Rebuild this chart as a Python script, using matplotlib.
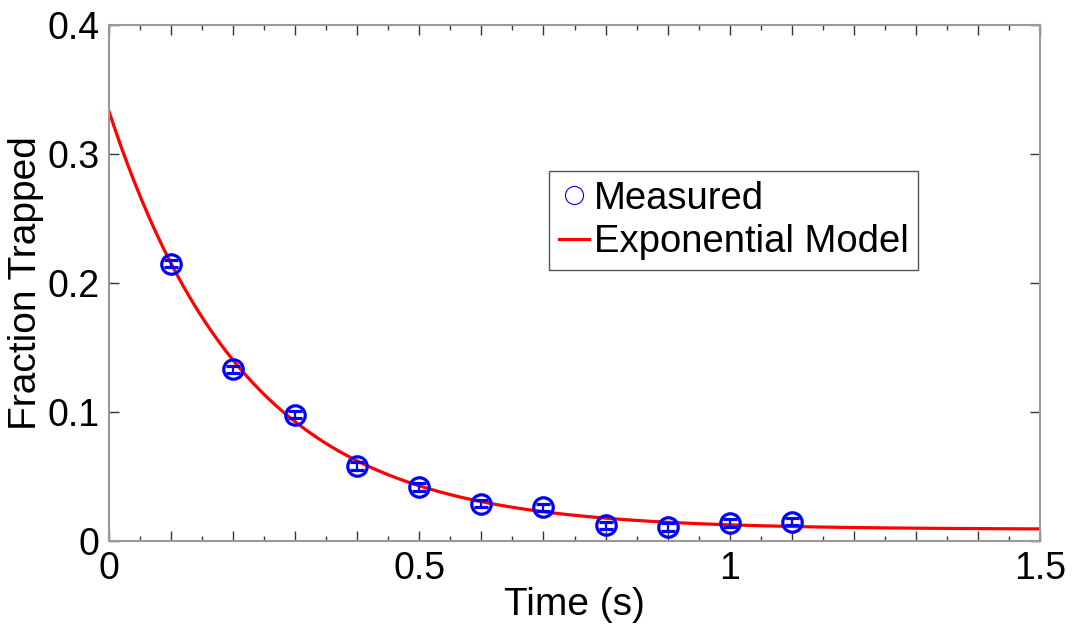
"""Fraction trapped vs time with exponential model fit."""

import matplotlib
matplotlib.use("Agg")
import matplotlib.pyplot as plt
import numpy as np
from matplotlib.lines import Line2D
from matplotlib.ticker import FixedLocator, FuncFormatter, MultipleLocator

plt.rcParams["font.family"] = ["Liberation Sans", "DejaVu Sans"]

# measured data
time_s = [0.1, 0.2, 0.3, 0.4, 0.5, 0.6, 0.7, 0.8, 0.9, 1.0, 1.1]
fraction = [0.215, 0.133, 0.098, 0.058, 0.042, 0.029, 0.026, 0.012, 0.011, 0.014, 0.015]
fraction_err = [0.003, 0.003, 0.003, 0.003, 0.003, 0.003, 0.003, 0.003, 0.003, 0.003, 0.003]

# exponential model parameters: a * exp(-t / tau) + c
model_amp = 0.324
model_tau = 0.221
model_offset = 0.009
model_t = np.linspace(0, 1.5, 400)
model_y = model_amp * np.exp(-model_t / model_tau) + model_offset

x_ticklabels = [0, 0.5, 1, 1.5]
y_ticks = [0, 0.1, 0.2, 0.3, 0.4]

BLUE = "#0000ff"
RED = "#ff0000"
GRAY = "#999999"

fig = plt.figure(figsize=(10.76, 6.27), dpi=100)
ax = fig.add_axes([0.1013, 0.1372, 0.8653, 0.823])

ax.plot(model_t, model_y, color=RED, lw=2.3, zorder=2)
ax.errorbar(time_s, fraction, yerr=fraction_err, fmt="o", ms=14, mfc="none",
            mec=BLUE, mew=2.3, ecolor=BLUE, elinewidth=1.6, capsize=5,
            capthick=1.6, zorder=3)

ax.set_xlim(0, 1.5)
ax.set_ylim(0, 0.4)
ax.xaxis.set_major_locator(MultipleLocator(0.1))
ax.xaxis.set_minor_locator(MultipleLocator(0.05))
ax.xaxis.set_major_formatter(FuncFormatter(
    lambda v, p: (f"{v:g}" if any(abs(v - t) < 1e-6 for t in x_ticklabels) else "")))
ax.yaxis.set_major_locator(FixedLocator(y_ticks))
ax.yaxis.set_major_formatter(FuncFormatter(lambda v, p: f"{v:g}"))

ax.tick_params(which="both", direction="in", top=True, right=True,
               labelsize=27, color="#333333", width=1, pad=7)
ax.tick_params(which="major", length=7)
ax.tick_params(which="minor", length=3.5)
for s in ax.spines.values():
    s.set_color(GRAY)
    s.set_linewidth(1.5)

ax.set_xlabel("Time (s)", fontsize=28, labelpad=0)
ax.set_ylabel("Fraction Trapped", fontsize=28, labelpad=2)

handles = [
    Line2D([], [], ls="none", marker="o", ms=13, mfc="none", mec=BLUE, mew=0.8),
    Line2D([], [], color=RED, lw=2.3),
]
leg = ax.legend(handles, ["Measured", "Exponential Model"], fontsize=27.5,
                loc="upper left", bbox_to_anchor=(549 / 1076, 1 - 171 / 627),
                bbox_transform=fig.transFigure, borderaxespad=0, borderpad=0.25,
                handlelength=0.8, handletextpad=0.12, labelspacing=0.2,
                fancybox=False, framealpha=1, edgecolor="#555555")
leg.get_frame().set_linewidth(1.0)

fig.savefig("out.png", dpi=100)
